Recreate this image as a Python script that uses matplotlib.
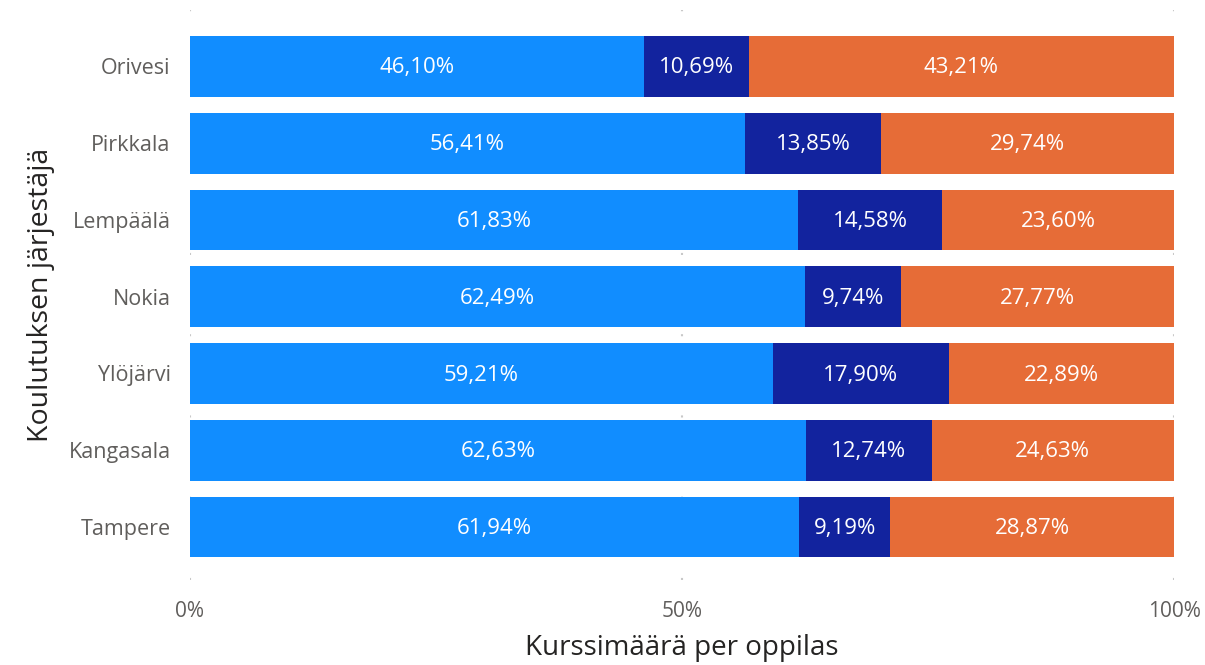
import matplotlib.pyplot as plt

plt.rcParams['font.family'] = ['Open Sans', 'DejaVu Sans']

places = ["Orivesi", "Pirkkala", "Lempäälä", "Nokia", "Ylöjärvi", "Kangasala", "Tampere"]
share_a = [46.10, 56.41, 61.83, 62.49, 59.21, 62.63, 61.94]
share_b = [10.69, 13.85, 14.58, 9.74, 17.90, 12.74, 9.19]
share_c = [43.21, 29.74, 23.60, 27.77, 22.89, 24.63, 28.87]
x_ticks = [0, 50, 100]
x_tick_labels = ["0%", "50%", "100%"]

colors = ["#118DFF", "#12239E", "#E66C37"]

W, H = 1205, 665
fig = plt.figure(figsize=(W / 100, H / 100), dpi=100)
ax = fig.add_axes([190 / W, 1 - 580 / H, (1174 - 190) / W, (580 - 10) / H])

ypos = list(range(len(places)))
left = [0.0] * len(places)
for vals, col in zip([share_a, share_b, share_c], colors):
    ax.barh(ypos, vals, left=left, height=0.79, color=col, zorder=2)
    for y, l, v in zip(ypos, left, vals):
        ax.text(l + v / 2, y + 0.02, f"{v:.2f}%".replace(".", ","), ha="center", va="center",
                color="white", fontsize=16, zorder=3)
    left = [l + v for l, v in zip(left, vals)]

ax.set_xlim(0, 100)
ax.set_ylim(6.69, -0.735)
ax.set_yticks(ypos)
ax.set_yticklabels(places, fontsize=15.5, color="#605E5C")
ax.set_xticks(x_ticks)
ax.set_xticklabels(x_tick_labels, fontsize=15, color="#605E5C")
ax.tick_params(length=0)
ax.tick_params(axis="y", pad=14)
ax.tick_params(axis="x", pad=15)
for s in ax.spines.values():
    s.set_visible(False)
ax.xaxis.grid(True, color="#C8C8C8", linestyle=(0, (1, 12)), linewidth=1.5, zorder=0)

ax.set_xlabel("Kurssimäärä per oppilas", fontsize=20, color="#252423", labelpad=9)
ax.set_ylabel("Koulutuksen järjestäjä", fontsize=20.5, color="#252423", labelpad=10)

fig.savefig("out.png", dpi=100)
